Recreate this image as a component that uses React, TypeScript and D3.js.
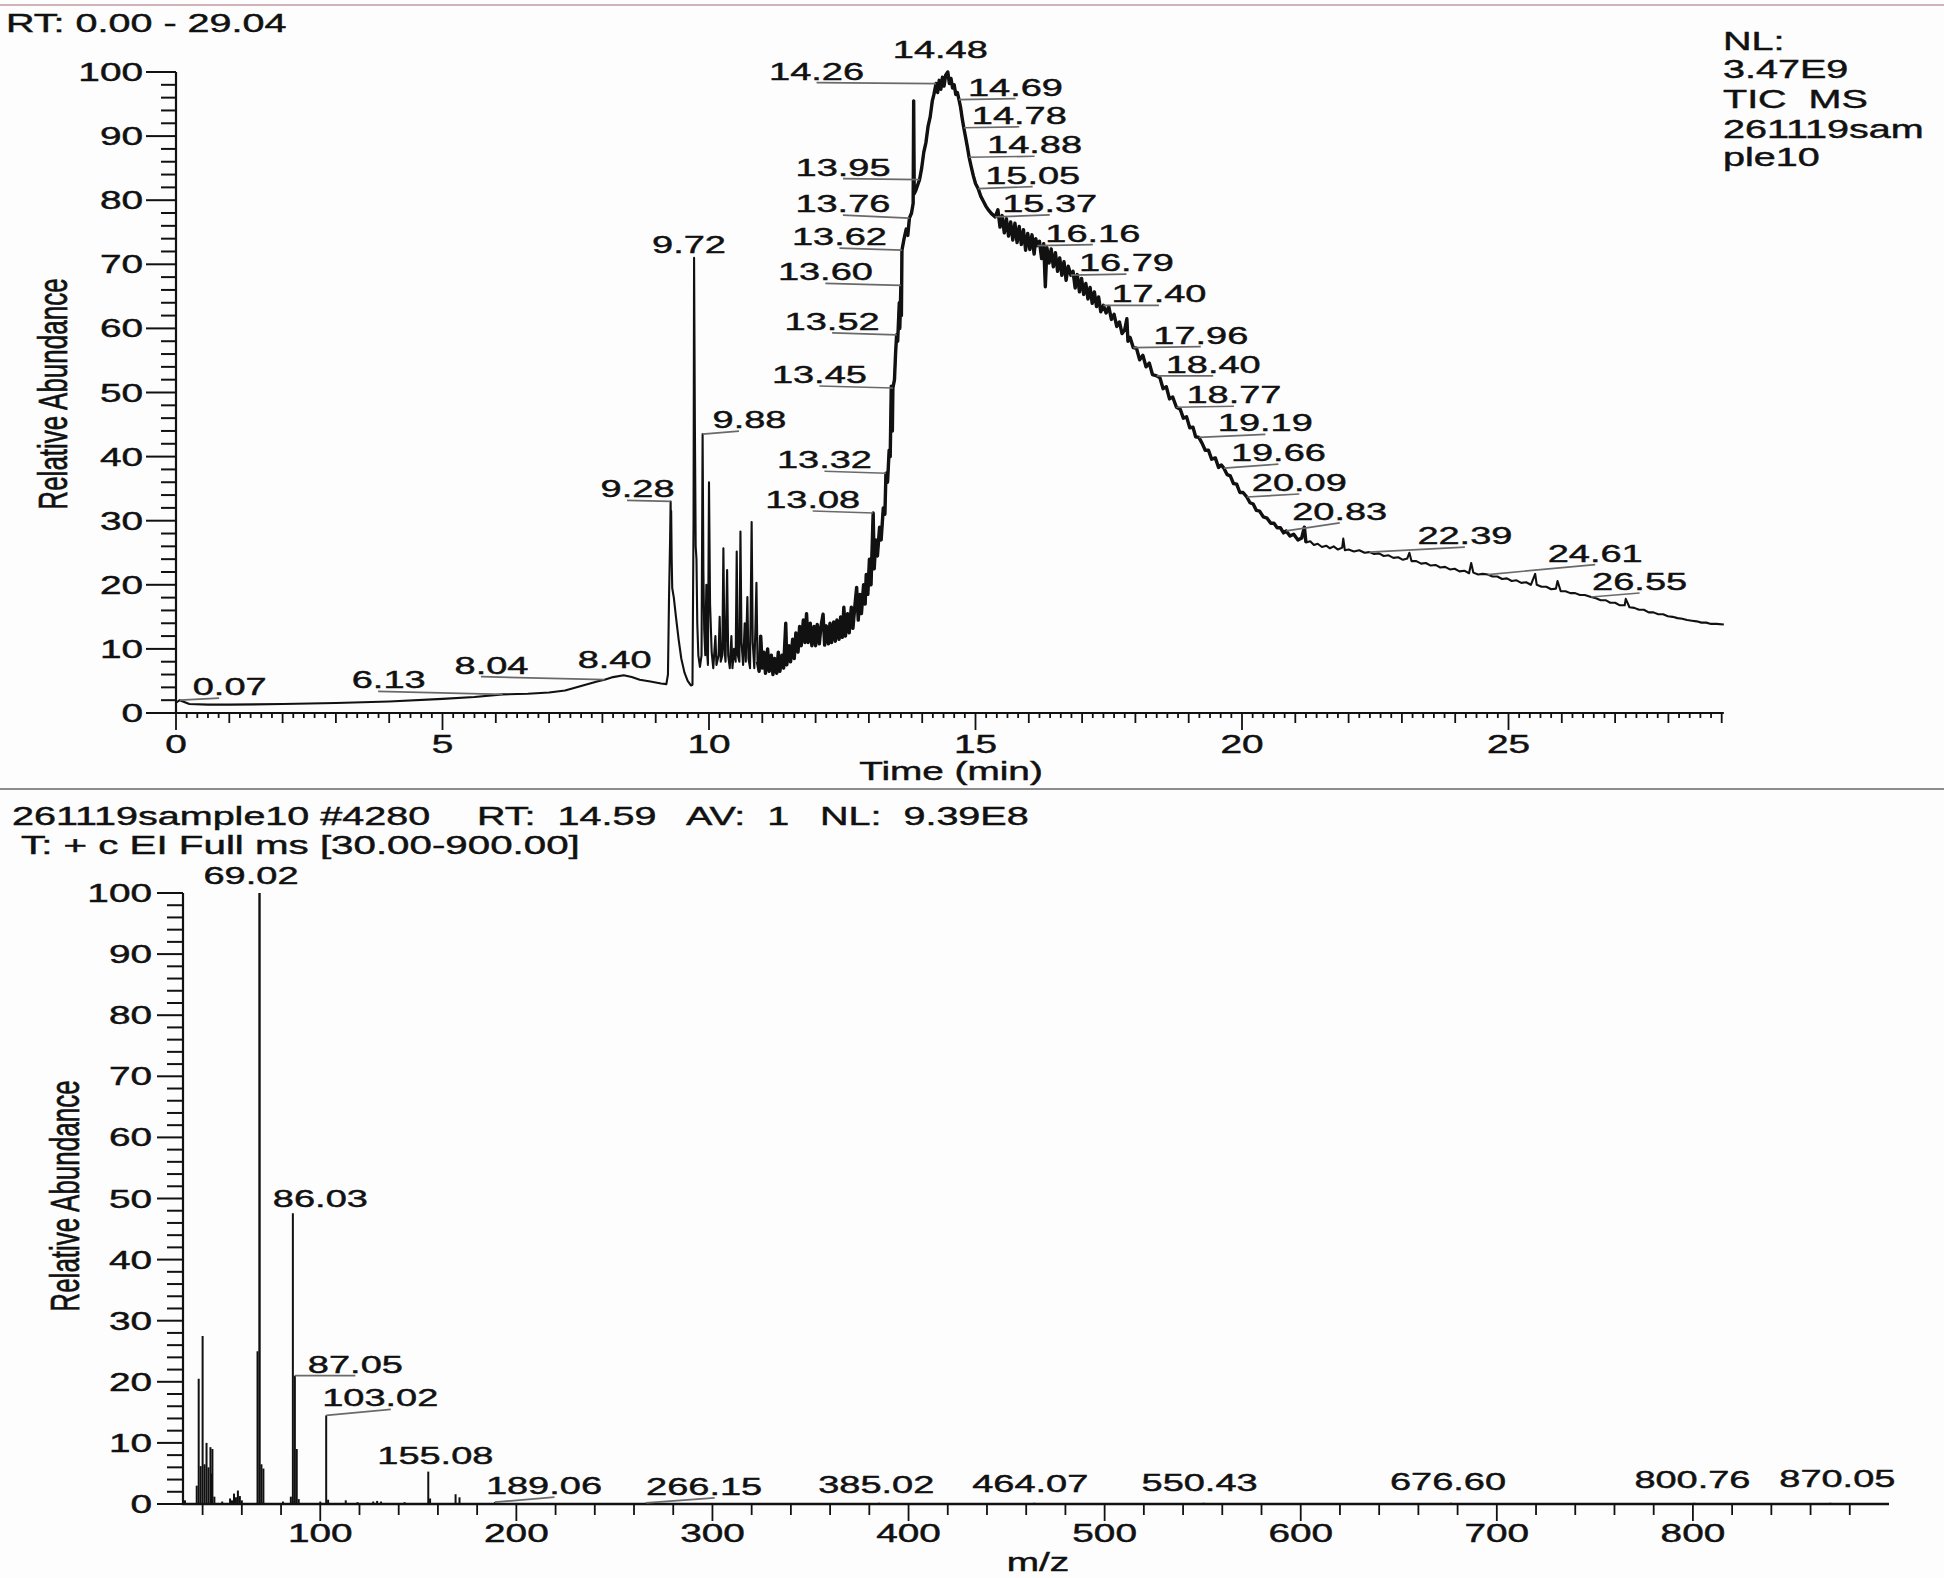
import React from 'react';
import * as d3 from 'd3';

// ---------------- DATA ----------------
// TIC chromatogram: [time (min), relative abundance %]
const ticPoints: [number, number][] = [
  [0.0, 1.6], [0.07, 2.0], [0.25, 1.4], [0.6, 1.3], [1.0, 1.3], [2.0, 1.4], [3.0, 1.55], [4.0, 1.8], [5.0, 2.2], [5.6, 2.5],
  [6.13, 2.9], [6.6, 3.0], [7.0, 3.2], [7.3, 3.5], [7.6, 4.2], [7.9, 4.9], [8.04, 5.2], [8.2, 5.6], [8.4, 5.9], [8.55, 5.6],
  [8.7, 5.2], [8.9, 4.9], [9.1, 4.6], [9.2, 4.5], [9.23, 6], [9.25, 18], [9.27, 27], [9.28, 33], [9.285, 29], [9.29, 31.5],
  [9.3, 24], [9.31, 19.5], [9.34, 18], [9.38, 15], [9.43, 11.5], [9.48, 8.5], [9.54, 6.3], [9.6, 5.0], [9.66, 4.3], [9.69, 4.4],
  [9.71, 30], [9.72, 71], [9.735, 45], [9.75, 26], [9.765, 24], [9.78, 14], [9.8, 9], [9.83, 7.2], [9.86, 9], [9.88, 43.5],
  [9.895, 22], [9.91, 13], [9.93, 9], [9.95, 20], [9.96, 10], [9.98, 7.5], [10.0, 36], [10.02, 17], [10.05, 9.5], [10.08, 7],
  [10.12, 12], [10.14, 7.5], [10.18, 9], [10.2, 15], [10.22, 8], [10.25, 9], [10.27, 25.7], [10.29, 10], [10.31, 8], [10.34, 22.3],
  [10.36, 9], [10.39, 7], [10.42, 12], [10.44, 7], [10.47, 10], [10.5, 8], [10.52, 25.2], [10.54, 9], [10.57, 8], [10.59, 28.3],
  [10.61, 11], [10.64, 7.5], [10.67, 14], [10.69, 8], [10.72, 18.1], [10.74, 8.5], [10.77, 7], [10.8, 29.8], [10.82, 11], [10.85, 7],
  [10.87, 13], [10.89, 20.3], [10.91, 8], [10.94, 6.5], [10.97, 12], [11.0, 7], [11.03, 9.5], [11.06, 6.2], [11.1, 10], [11.13, 6.5],
  [11.17, 9], [11.2, 6], [11.23, 8.5], [11.27, 6.2], [11.3, 9.5], [11.33, 6.5], [11.37, 9], [11.4, 7], [11.44, 14], [11.46, 7.5],
  [11.5, 10.5], [11.53, 8], [11.57, 11.5], [11.6, 8.5], [11.63, 12.5], [11.67, 9.5], [11.7, 13.5], [11.73, 10.5], [11.77, 14.5], [11.8, 11],
  [11.83, 15.5], [11.86, 11], [11.9, 14], [11.93, 10.5], [11.97, 13.5], [12.0, 10.5], [12.03, 13.8], [12.07, 10.8], [12.1, 13.5], [12.14, 15.4],
  [12.17, 10.6], [12.2, 13.6], [12.24, 10.8], [12.27, 14], [12.3, 11], [12.34, 14.2], [12.37, 11.2], [12.4, 14.5], [12.44, 11.5], [12.47, 15],
  [12.5, 11.8], [12.53, 16.5], [12.56, 12], [12.6, 15.5], [12.63, 12.5], [12.67, 16.5], [12.7, 13.2], [12.74, 17], [12.77, 19.6], [12.8, 14.5],
  [12.83, 18.5], [12.86, 15.5], [12.9, 20], [12.93, 17], [12.95, 21.6], [12.98, 18.5], [13.01, 24], [13.04, 20], [13.08, 31.2], [13.1, 22.5],
  [13.13, 27], [13.16, 24.5], [13.2, 29], [13.23, 27], [13.27, 32], [13.3, 31], [13.32, 37.4], [13.35, 36], [13.38, 41], [13.4, 40],
  [13.42, 51], [13.44, 44], [13.45, 50.7], [13.48, 52], [13.5, 56], [13.52, 59], [13.54, 58], [13.57, 64], [13.58, 60], [13.6, 66.7],
  [13.61, 62], [13.62, 72.2], [13.66, 74], [13.7, 75.5], [13.73, 74.5], [13.76, 77.2], [13.8, 78], [13.83, 79.5], [13.84, 95.5], [13.85, 81],
  [13.88, 81.5], [13.92, 82.5], [13.95, 83.2], [13.99, 85], [14.03, 87.5], [14.07, 89], [14.11, 91.5], [14.15, 93], [14.19, 95.5], [14.22, 96.5],
  [14.26, 98.2], [14.29, 96.8], [14.32, 98.7], [14.35, 97.3], [14.38, 99.2], [14.41, 97.8], [14.44, 99.5], [14.48, 100], [14.51, 98.2], [14.54, 99],
  [14.57, 97.5], [14.6, 98], [14.63, 96.5], [14.66, 96.8], [14.69, 95.7], [14.72, 94.5], [14.75, 92.8], [14.78, 91.3], [14.81, 90], [14.85, 88.2],
  [14.88, 86.7], [14.92, 85.2], [14.96, 83.8], [15.0, 82.6], [15.05, 81.8], [15.1, 80.6], [15.15, 79.8], [15.2, 79], [15.25, 78.4], [15.3, 77.9],
  [15.37, 77.4], [15.42, 78.5], [15.46, 75.8], [15.5, 77.6], [15.54, 74.9], [15.58, 77.1], [15.62, 74.4], [15.66, 76.6], [15.7, 73.8], [15.74, 76.4],
  [15.78, 73.4], [15.82, 75.9], [15.86, 73.1], [15.9, 75.4], [15.94, 72.2], [15.98, 74.8], [16.02, 72.3], [16.06, 74.6], [16.1, 71.6], [16.13, 74.0],
  [16.16, 72.9], [16.2, 73.6], [16.24, 70.9], [16.28, 73.2], [16.31, 66.5], [16.34, 72.6], [16.38, 70.2], [16.42, 72.4], [16.46, 69.6], [16.5, 71.8],
  [16.54, 68.9], [16.58, 71.0], [16.62, 68.3], [16.66, 70.4], [16.7, 67.5], [16.74, 69.7], [16.79, 68.3], [16.83, 68.9], [16.87, 66.3], [16.91, 68.4],
  [16.95, 65.7], [16.99, 67.8], [17.03, 65.3], [17.07, 67.0], [17.11, 64.6], [17.15, 66.4], [17.19, 63.9], [17.23, 65.7], [17.27, 63.4], [17.31, 64.9],
  [17.35, 62.6], [17.4, 63.6], [17.45, 62.4], [17.5, 63.4], [17.55, 61.4], [17.6, 62.2], [17.65, 60.3], [17.7, 61.0], [17.75, 59.2], [17.8, 59.8],
  [17.84, 61.5], [17.86, 58.0], [17.9, 58.6], [17.96, 57.0], [18.02, 56.9], [18.08, 55.1], [18.14, 55.8], [18.2, 54.0], [18.26, 54.6], [18.32, 52.8],
  [18.4, 52.6], [18.46, 52.3], [18.52, 50.6], [18.58, 50.9], [18.64, 49.0], [18.7, 49.3], [18.77, 47.7], [18.84, 47.4], [18.9, 46.0], [18.96, 46.2],
  [19.02, 44.5], [19.08, 44.6], [19.13, 43.1], [19.19, 43.0], [19.25, 42.1], [19.31, 41.0], [19.37, 41.0], [19.43, 39.6], [19.5, 39.8], [19.56, 38.3],
  [19.61, 38.7], [19.66, 38.2], [19.72, 37.2], [19.78, 37.0], [19.84, 35.8], [19.9, 35.7], [19.96, 34.4], [20.02, 34.4], [20.09, 33.7], [20.15, 32.8],
  [20.21, 32.6], [20.27, 31.6], [20.33, 31.5], [20.4, 30.6], [20.47, 30.4], [20.54, 29.6], [20.6, 29.6], [20.66, 28.9], [20.72, 28.9], [20.78, 28.1],
  [20.83, 28.4], [20.9, 27.6], [20.97, 27.9], [21.05, 27.0], [21.12, 27.3], [21.17, 29.0], [21.2, 26.6], [21.28, 26.8], [21.35, 26.2], [21.42, 26.4],
  [21.5, 25.9], [21.58, 26.1], [21.65, 25.7], [21.72, 26.0], [21.8, 25.5], [21.88, 25.8], [21.9, 27.2], [21.93, 25.4], [22.0, 25.5], [22.1, 25.2],
  [22.2, 25.4], [22.3, 25.0], [22.39, 25.1], [22.48, 24.8], [22.57, 24.9], [22.66, 24.5], [22.75, 24.6], [22.84, 24.2], [22.93, 24.3], [23.02, 23.9],
  [23.1, 24.1], [23.14, 25.0], [23.18, 23.7], [23.27, 23.7], [23.36, 23.3], [23.45, 23.4], [23.54, 23.0], [23.63, 23.1], [23.72, 22.7], [23.81, 22.8],
  [23.9, 22.4], [23.99, 22.5], [24.08, 22.1], [24.17, 22.2], [24.26, 21.8], [24.3, 23.4], [24.34, 21.9], [24.43, 21.6], [24.52, 21.7], [24.61, 21.6],
  [24.7, 21.3], [24.79, 21.3], [24.88, 20.9], [24.97, 21.0], [25.06, 20.6], [25.15, 20.7], [25.24, 20.3], [25.33, 20.4], [25.42, 20.0], [25.5, 21.7],
  [25.53, 20.0], [25.62, 19.7], [25.71, 19.7], [25.8, 19.3], [25.89, 19.4], [25.92, 20.6], [25.98, 19.0], [26.07, 19.0], [26.16, 18.7], [26.25, 18.7],
  [26.34, 18.4], [26.43, 18.4], [26.55, 18.1], [26.64, 17.9], [26.73, 17.6], [26.82, 17.6], [26.91, 17.2], [27.0, 17.2], [27.09, 16.8], [27.18, 16.8],
  [27.2, 17.8], [27.27, 16.5], [27.36, 16.4], [27.45, 16.1], [27.54, 16.1], [27.63, 15.7], [27.72, 15.7], [27.81, 15.4], [27.9, 15.4], [27.99, 15.1],
  [28.08, 15.0], [28.17, 14.8], [28.26, 14.7], [28.35, 14.5], [28.44, 14.4], [28.53, 14.3], [28.62, 14.1], [28.71, 14.1], [28.8, 13.9], [28.9, 13.9],
  [29.04, 13.8],
];

// retention times printed on the chromatogram
const ticLabelTimes = [
  0.07, 6.13, 8.04, 8.40, 9.28, 9.72, 9.88, 13.08, 13.32, 13.45, 13.52, 13.60, 13.62, 13.76, 13.95, 14.26, 14.48,
  14.69, 14.78, 14.88, 15.05, 15.37, 16.16, 16.79, 17.40, 17.96, 18.40, 18.77, 19.19, 19.66, 20.09, 20.83, 22.39, 24.61, 26.55,
];

// mass spectrum: [m/z, relative abundance %]
const specPeaks: [number, number][] = [
  [31, 0.6], [37, 3], [38, 20.5], [39, 6.2], [40, 27.5], [41, 6.5], [42, 10], [43, 6], [44, 9.3], [44.6, 5], [45, 9], [46, 1.2],
  [50, 0.4], [54, 0.9], [55, 0.6], [56, 1.7], [57, 1.1], [58, 2.2], [59, 1.3], [60, 0.6], [68, 25], [69.02, 100], [70, 6.5], [71, 5.8],
  [81, 0.4], [85, 1.2], [86.03, 47.6], [87.05, 21], [88, 9], [89, 0.8], [100, 0.4], [103.02, 14.5], [104, 0.7], [113, 0.6], [119, 0.3],
  [127, 0.4], [129, 0.5], [131, 0.4], [143, 0.3], [155.08, 5.3], [156, 0.9], [169, 1.6], [171, 1.1], [189.06, 0.3], [266.15, 0.2],
  [385.02, 0.2], [464.07, 0.2], [550.43, 0.2], [676.6, 0.2], [800.76, 0.2], [870.05, 0.2],
];

const specLabelMz = [69.02, 86.03, 87.05, 103.02, 155.08, 189.06, 266.15, 385.02, 464.07, 550.43, 676.6, 800.76, 870.05];

const yTickValues = [0, 10, 20, 30, 40, 50, 60, 70, 80, 90, 100];
const ticXTickLabels = [0, 5, 10, 15, 20, 25];
const specXTickLabels = [100, 200, 300, 400, 500, 600, 700, 800];

const ticRange: [number, number] = [0, 29.04];
const specRange: [number, number] = [30, 900];
const noisyRange: [number, number] = [10.9, 21.2];

const headerTop = 'RT: 0.00 - 29.04';
const nlLines = ['NL:', '3.47E9', 'TIC  MS', '261119sam', 'ple10'];
const specHeader1 = ['261119sample10 #4280', 'RT:  14.59', 'AV:  1', 'NL:  9.39E8'];
const specHeader2 = 'T: + c EI Full ms [30.00-900.00]';

// ---------------- LAYOUT ----------------
const W = 1944;
const H = 1578;
const SX = 1.55; // horizontal stretch of the printed font
const FONT = '"Liberation Sans", Arial, Helvetica, sans-serif';
const INK = '#111';
const LEAD = '#6a6a6a';

// label text offsets (px) from the labelled point: [dx of text left, dy of baseline]
const ticLabelOffsets: [number, number][] = [
  [13, -5], [-151, -6], [-150, -6], [-46, -7], [-70, -4], [-42, -5], [10, -6], [-108, -5], [-109, -5], [-121, -5],
  [-112, -5], [-123, -5], [-110, -5], [-114, -6], [-124, -4], [-167, -4], [-55, -14], [9, -4], [8, -4], [18, -4],
  [7, -5], [7, -5], [8, -4], [8, -4], [8, -3], [20, -4], [9, -3], [10, -4], [19, -6], [7, -7], [5, -6], [6, -11],
  [48, -8], [60, -13], [1, -7],
];
const specLabelOffsets: [number, number][] = [
  [-56, -9], [-20, -6], [13, -3], [-4, -9], [-51, -8], [-9, -8], [0, -8], [-61, -10], [-62, -11], [-62, -12],
  [-61, -13], [-60, -15], [-51, -16],
];

function Txt(props: { x: number; y: number; children: any; anchor?: string; size?: number; rot?: boolean }) {
  const { x, y, children, anchor = 'start', size = 25, rot = false } = props;
  return (
    <text
      transform={`translate(${x},${y}) scale(${SX},1)${rot ? ' rotate(-90)' : ''}`}
      textAnchor={anchor}
      fontSize={size}
      fontFamily={FONT}
      fill={INK}
      stroke={INK}
      strokeWidth={0.45}
      style={{ whiteSpace: 'pre' }}
    >
      {children}
    </text>
  );
}

function PeakLabel(props: { px: number; py: number; text: string; off: [number, number] }) {
  const { px, py, text, off } = props;
  const size = 24.5;
  const left = px + off[0];
  const base = py + off[1];
  const dot = text.indexOf('.');
  const em = size * SX;
  const decX = left + (dot * 0.556 + 0.139) * em;
  const width = ((text.length - 1) * 0.556 + 0.278) * em;
  const above = px > left + 10 && px < left + width - 10;
  return (
    <g>
      {!above && (
        <line x1={px} y1={py} x2={decX} y2={base + 3} stroke={LEAD} strokeWidth={1.7} />
      )}
      <Txt x={left} y={base} size={size}>{text}</Txt>
    </g>
  );
}

export default function App() {
  // top chromatogram scales
  const tx = d3.scaleLinear().domain(ticRange).range([176, 176 + 29.04 * 53.3]);
  const ty = d3.scaleLinear().domain([0, 100]).range([713, 72]);
  // bottom spectrum scales
  const mx = d3.scaleLinear().domain(specRange).range([183, 1889]);
  const my = d3.scaleLinear().domain([0, 100]).range([1504, 893]);

  const ticLine = d3
    .line<[number, number]>()
    .x((d) => tx(d[0]))
    .y((d) => ty(d[1]));

  const noisy = ticPoints.filter((p) => p[0] >= noisyRange[0] && p[0] <= noisyRange[1]);

  const ticMinor = d3.range(0, 146);
  const yMinor = d3.range(0, 51).map((i) => i * 2);
  const specMinor = d3.range(40, 881, 20);

  const tx0 = tx(0);
  const ty0 = ty(0);
  const mx0 = mx(30);
  const my0 = my(0);

  return (
    <svg
      width={W}
      height={H}
      viewBox={`0 0 ${W} ${H}`}
      style={{ position: 'absolute', left: 0, top: 0, background: '#fff' }}
    >
      <rect x={0} y={0} width={W} height={H} fill="#fdfdfd" />
      {/* separators */}
      <line x1={0} x2={W} y1={5} y2={5} stroke="#cfb3b8" strokeWidth={2} />
      <line x1={0} x2={W} y1={789} y2={789} stroke="#8c8c8c" strokeWidth={2} />

      {/* ===== TOP: chromatogram ===== */}
      <Txt x={6} y={32} size={25.5}>{headerTop}</Txt>
      {nlLines.map((s, i) => (
        <Txt key={s} x={1723} y={[50, 78, 108, 138, 166][i]} size={25.5}>{s}</Txt>
      ))}

      {/* y axis */}
      <line x1={tx0} x2={tx0} y1={ty(100)} y2={ty0 + 1} stroke={INK} strokeWidth={2.2} />
      {yMinor.map((v) => (
        <line key={'tym' + v} x1={tx0 - (v % 10 === 0 ? 30 : 15)} x2={tx0} y1={ty(v)} y2={ty(v)} stroke={INK} strokeWidth={2} />
      ))}
      {yTickValues.map((v) => (
        <Txt key={'tyl' + v} x={tx0 - 33} y={ty(v) + 9} anchor="end">{String(v)}</Txt>
      ))}
      <Txt x={67} y={394} anchor="middle" size={26} rot>Relative Abundance</Txt>

      {/* x axis */}
      <line x1={tx0 - 1} x2={tx(29.04)} y1={ty0} y2={ty0} stroke={INK} strokeWidth={2.2} />
      {ticMinor.map((i) => {
        const t = i * 0.2;
        if (t > 29.04) return null;
        const len = i % 25 === 0 ? 17 : i % 5 === 0 ? 10 : 5;
        return <line key={'txm' + i} x1={tx(t)} x2={tx(t)} y1={ty0} y2={ty0 + len} stroke={INK} strokeWidth={1.8} />;
      })}
      {ticXTickLabels.map((v) => (
        <Txt key={'txl' + v} x={tx(v)} y={753} anchor="middle">{String(v)}</Txt>
      ))}
      <Txt x={951} y={780} anchor="middle">Time (min)</Txt>

      {/* trace */}
      <path d={ticLine(ticPoints) || ''} fill="none" stroke={INK} strokeWidth={2.1} strokeLinejoin="round" />
      <path d={ticLine(noisy) || ''} fill="none" stroke={INK} strokeWidth={3.4} strokeLinejoin="round" />

      {/* peak labels */}
      {ticLabelTimes.map((t, i) => {
        const pt = ticPoints.find((p) => Math.abs(p[0] - t) < 1e-6) || [t, 0];
        return (
          <PeakLabel key={'tl' + i} px={tx(pt[0])} py={ty(pt[1])} text={t.toFixed(2)} off={ticLabelOffsets[i]} />
        );
      })}

      {/* ===== BOTTOM: mass spectrum ===== */}
      <Txt x={12} y={825} size={25.5}>{specHeader1[0]}</Txt>
      <Txt x={477} y={825} size={25.5}>{specHeader1[1]}</Txt>
      <Txt x={686} y={825} size={25.5}>{specHeader1[2]}</Txt>
      <Txt x={820} y={825} size={25.5}>{specHeader1[3]}</Txt>
      <Txt x={21} y={854} size={26}>{specHeader2}</Txt>

      {/* y axis */}
      <line x1={mx0} x2={mx0} y1={my(100)} y2={my0 + 1} stroke={INK} strokeWidth={2.2} />
      {yMinor.map((v) => (
        <line key={'mym' + v} x1={mx0 - (v % 10 === 0 ? 26 : 16)} x2={mx0} y1={my(v)} y2={my(v)} stroke={INK} strokeWidth={2} />
      ))}
      {yTickValues.map((v) => (
        <Txt key={'myl' + v} x={mx0 - 31} y={my(v) + 9} anchor="end">{String(v)}</Txt>
      ))}
      <Txt x={79} y={1196} anchor="middle" size={26} rot>Relative Abundance</Txt>

      {/* x axis */}
      <line x1={mx0 - 1} x2={mx(900)} y1={my0} y2={my0} stroke={INK} strokeWidth={2.4} />
      {specMinor.map((v) => (
        <line key={'mxm' + v} x1={mx(v)} x2={mx(v)} y1={my0} y2={my0 + (v % 100 === 0 ? 17 : 11)} stroke={INK} strokeWidth={1.8} />
      ))}
      {specXTickLabels.map((v) => (
        <Txt key={'mxl' + v} x={mx(v)} y={1542} anchor="middle">{String(v)}</Txt>
      ))}
      <Txt x={1038} y={1571} anchor="middle">m/z</Txt>

      {/* sticks */}
      {specPeaks.map(([m, a], i) => (
        <line key={'sp' + i} x1={mx(m)} x2={mx(m)} y1={my0} y2={my(a)} stroke={INK} strokeWidth={a > 50 ? 2.4 : 2} />
      ))}

      {specLabelMz.map((m, i) => {
        const pk = specPeaks.find((p) => Math.abs(p[0] - m) < 1e-6) || [m, 0];
        return <PeakLabel key={'sl' + i} px={mx(pk[0])} py={my(pk[1])} text={m.toFixed(2)} off={specLabelOffsets[i]} />;
      })}
    </svg>
  );
}
